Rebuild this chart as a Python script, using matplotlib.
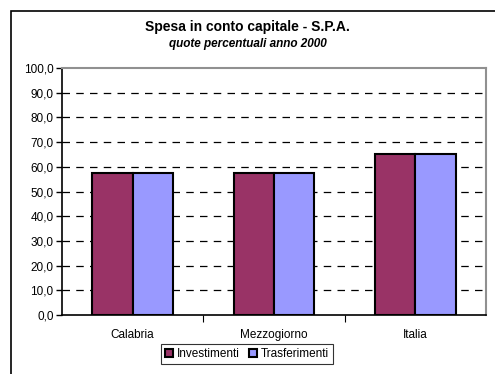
import matplotlib.pyplot as plt
import numpy as np
from matplotlib.patches import Rectangle

plt.rcParams['font.family'] = ['Liberation Sans', 'DejaVu Sans']

regioni = ['Calabria', 'Mezzogiorno', 'Italia']
investimenti = [57.6, 57.6, 65.2]
trasferimenti = [57.6, 57.5, 65.2]
yticks = np.arange(0, 101, 10)

fig = plt.figure(figsize=(4.95, 3.74), dpi=100)
ax = fig.add_axes([62 / 495, 1 - 315 / 374, 424 / 495, 247 / 374])

# cornice esterna del grafico
fig.patches.append(Rectangle((11 / 495, -0.05), 1.2, 1 - 11 / 374 + 0.05,
                             transform=fig.transFigure, fill=False,
                             edgecolor='black', linewidth=1.2))

x = np.arange(len(regioni))
w = 0.285
ax.bar(x - w / 2, investimenti, w, color='#993366', edgecolor='black',
       linewidth=1.5, label='Investimenti', zorder=3)
ax.bar(x + w / 2, trasferimenti, w, color='#9999ff', edgecolor='black',
       linewidth=1.5, label='Trasferimenti', zorder=3)

ax.set_xlim(-0.5, 2.5)
ax.set_ylim(0, 100)
ax.set_yticks(yticks)
ax.set_yticklabels([f'{v:.1f}'.replace('.', ',') for v in yticks], fontsize=8.5)
for v in yticks[1:-1]:
    ax.axhline(v, color='black', linestyle=(0, (6, 5)), linewidth=0.9, zorder=1)

ax.set_xticks(x)
ax.set_xticklabels(regioni, fontsize=8.5)
ax.tick_params(axis='x', length=0, pad=10)
ax.tick_params(axis='y', length=4, width=1, pad=2)
# separatori tra le categorie
ax.set_xticks([0.5, 1.5], minor=True)
ax.tick_params(axis='x', which='minor', length=5, width=0.8, color='black')

ax.spines['left'].set_color('black')
ax.spines['left'].set_linewidth(1.2)
ax.spines['bottom'].set_color('black')
ax.spines['bottom'].set_linewidth(1.2)
ax.spines['top'].set_color('#909090')
ax.spines['top'].set_linewidth(1.5)
ax.spines['right'].set_color('#909090')
ax.spines['right'].set_linewidth(1.5)

fig.text(0.5, 1 - 27 / 374, 'Spesa in conto capitale - S.P.A.', ha='center',
         va='center', fontsize=10, fontweight='bold')
fig.text(0.5, 1 - 44 / 374, 'quote percentuali anno 2000', ha='center',
         va='center', fontsize=8.5, fontweight='bold', style='italic')

leg = fig.legend(loc='center', bbox_to_anchor=(247 / 495, 1 - 354 / 374),
                 ncol=2, fontsize=8.5, frameon=True, fancybox=False,
                 edgecolor='black', handlelength=0.7, handleheight=0.7,
                 handletextpad=0.3, columnspacing=0.8, borderpad=0.35,
                 borderaxespad=0)
leg.get_frame().set_linewidth(0.8)

fig.savefig('out.png', dpi=100)
